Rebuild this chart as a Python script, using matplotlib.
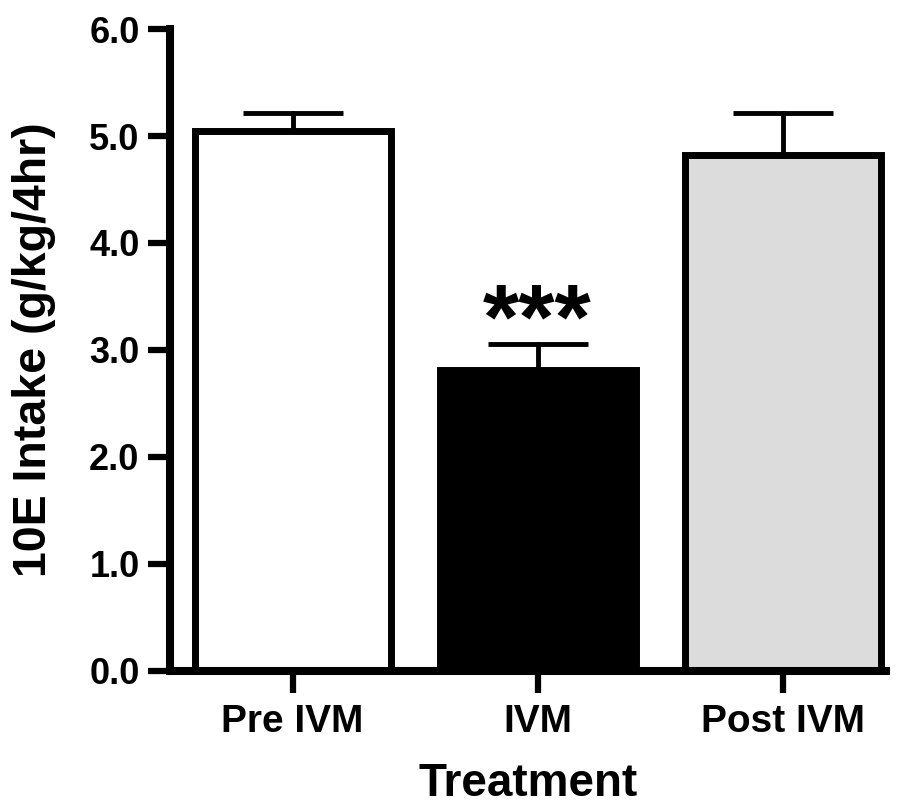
import matplotlib
matplotlib.use('Agg')
import matplotlib.pyplot as plt

plt.rcParams['font.family'] = ['Liberation Sans', 'DejaVu Sans']
plt.rcParams['font.weight'] = 'bold'

treatments = ['Pre IVM', 'IVM', 'Post IVM']
intake = [5.05, 2.81, 4.82]
sem = [0.17, 0.25, 0.40]
fills = ['white', 'black', '#dcdcdc']

fig = plt.figure(figsize=(9, 8.1), dpi=100)
ax = fig.add_axes([0.189, 0.172, 0.795, 0.792])

x = list(range(len(treatments)))
ax.bar(x, intake, width=0.8, color=fills, edgecolor='black', linewidth=5, zorder=2)
# upward-only error bars
ax.errorbar(x, intake, yerr=[[0] * len(sem), sem], fmt='none', ecolor='black',
            elinewidth=3.5, capsize=36, capthick=3.5, zorder=1)
for line in ax.lines:
    line.set_solid_capstyle('round')
for coll in ax.collections:
    coll.set_capstyle('round')

ax.text(1, intake[1] + 0.2, '***', ha='center', va='baseline',
        fontsize=67, fontweight='bold')

ax.set_xlim(-0.5, 2.42)
ax.set_ylim(0, 6)
ax.set_yticks([0, 1, 2, 3, 4, 5, 6])
ax.set_yticklabels(['0.0', '1.0', '2.0', '3.0', '4.0', '5.0', '6.0'], fontsize=26)
ax.set_xticks(x)
ax.set_xticklabels(treatments, fontsize=28)

for side in ['top', 'right']:
    ax.spines[side].set_visible(False)
for side in ['left', 'bottom']:
    ax.spines[side].set_linewidth(5.8)
    ax.spines[side].set_capstyle('projecting')
ax.tick_params(axis='both', length=16, width=4.5, direction='out')
ax.tick_params(axis='y', pad=6)
ax.tick_params(axis='x', pad=8)

ax.set_ylabel('10E Intake (g/kg/4hr)', fontsize=33.5, fontweight='bold', labelpad=24)
ax.set_xlabel('Treatment', fontsize=33, fontweight='bold', labelpad=16)

fig.savefig('out.png', dpi=100)
